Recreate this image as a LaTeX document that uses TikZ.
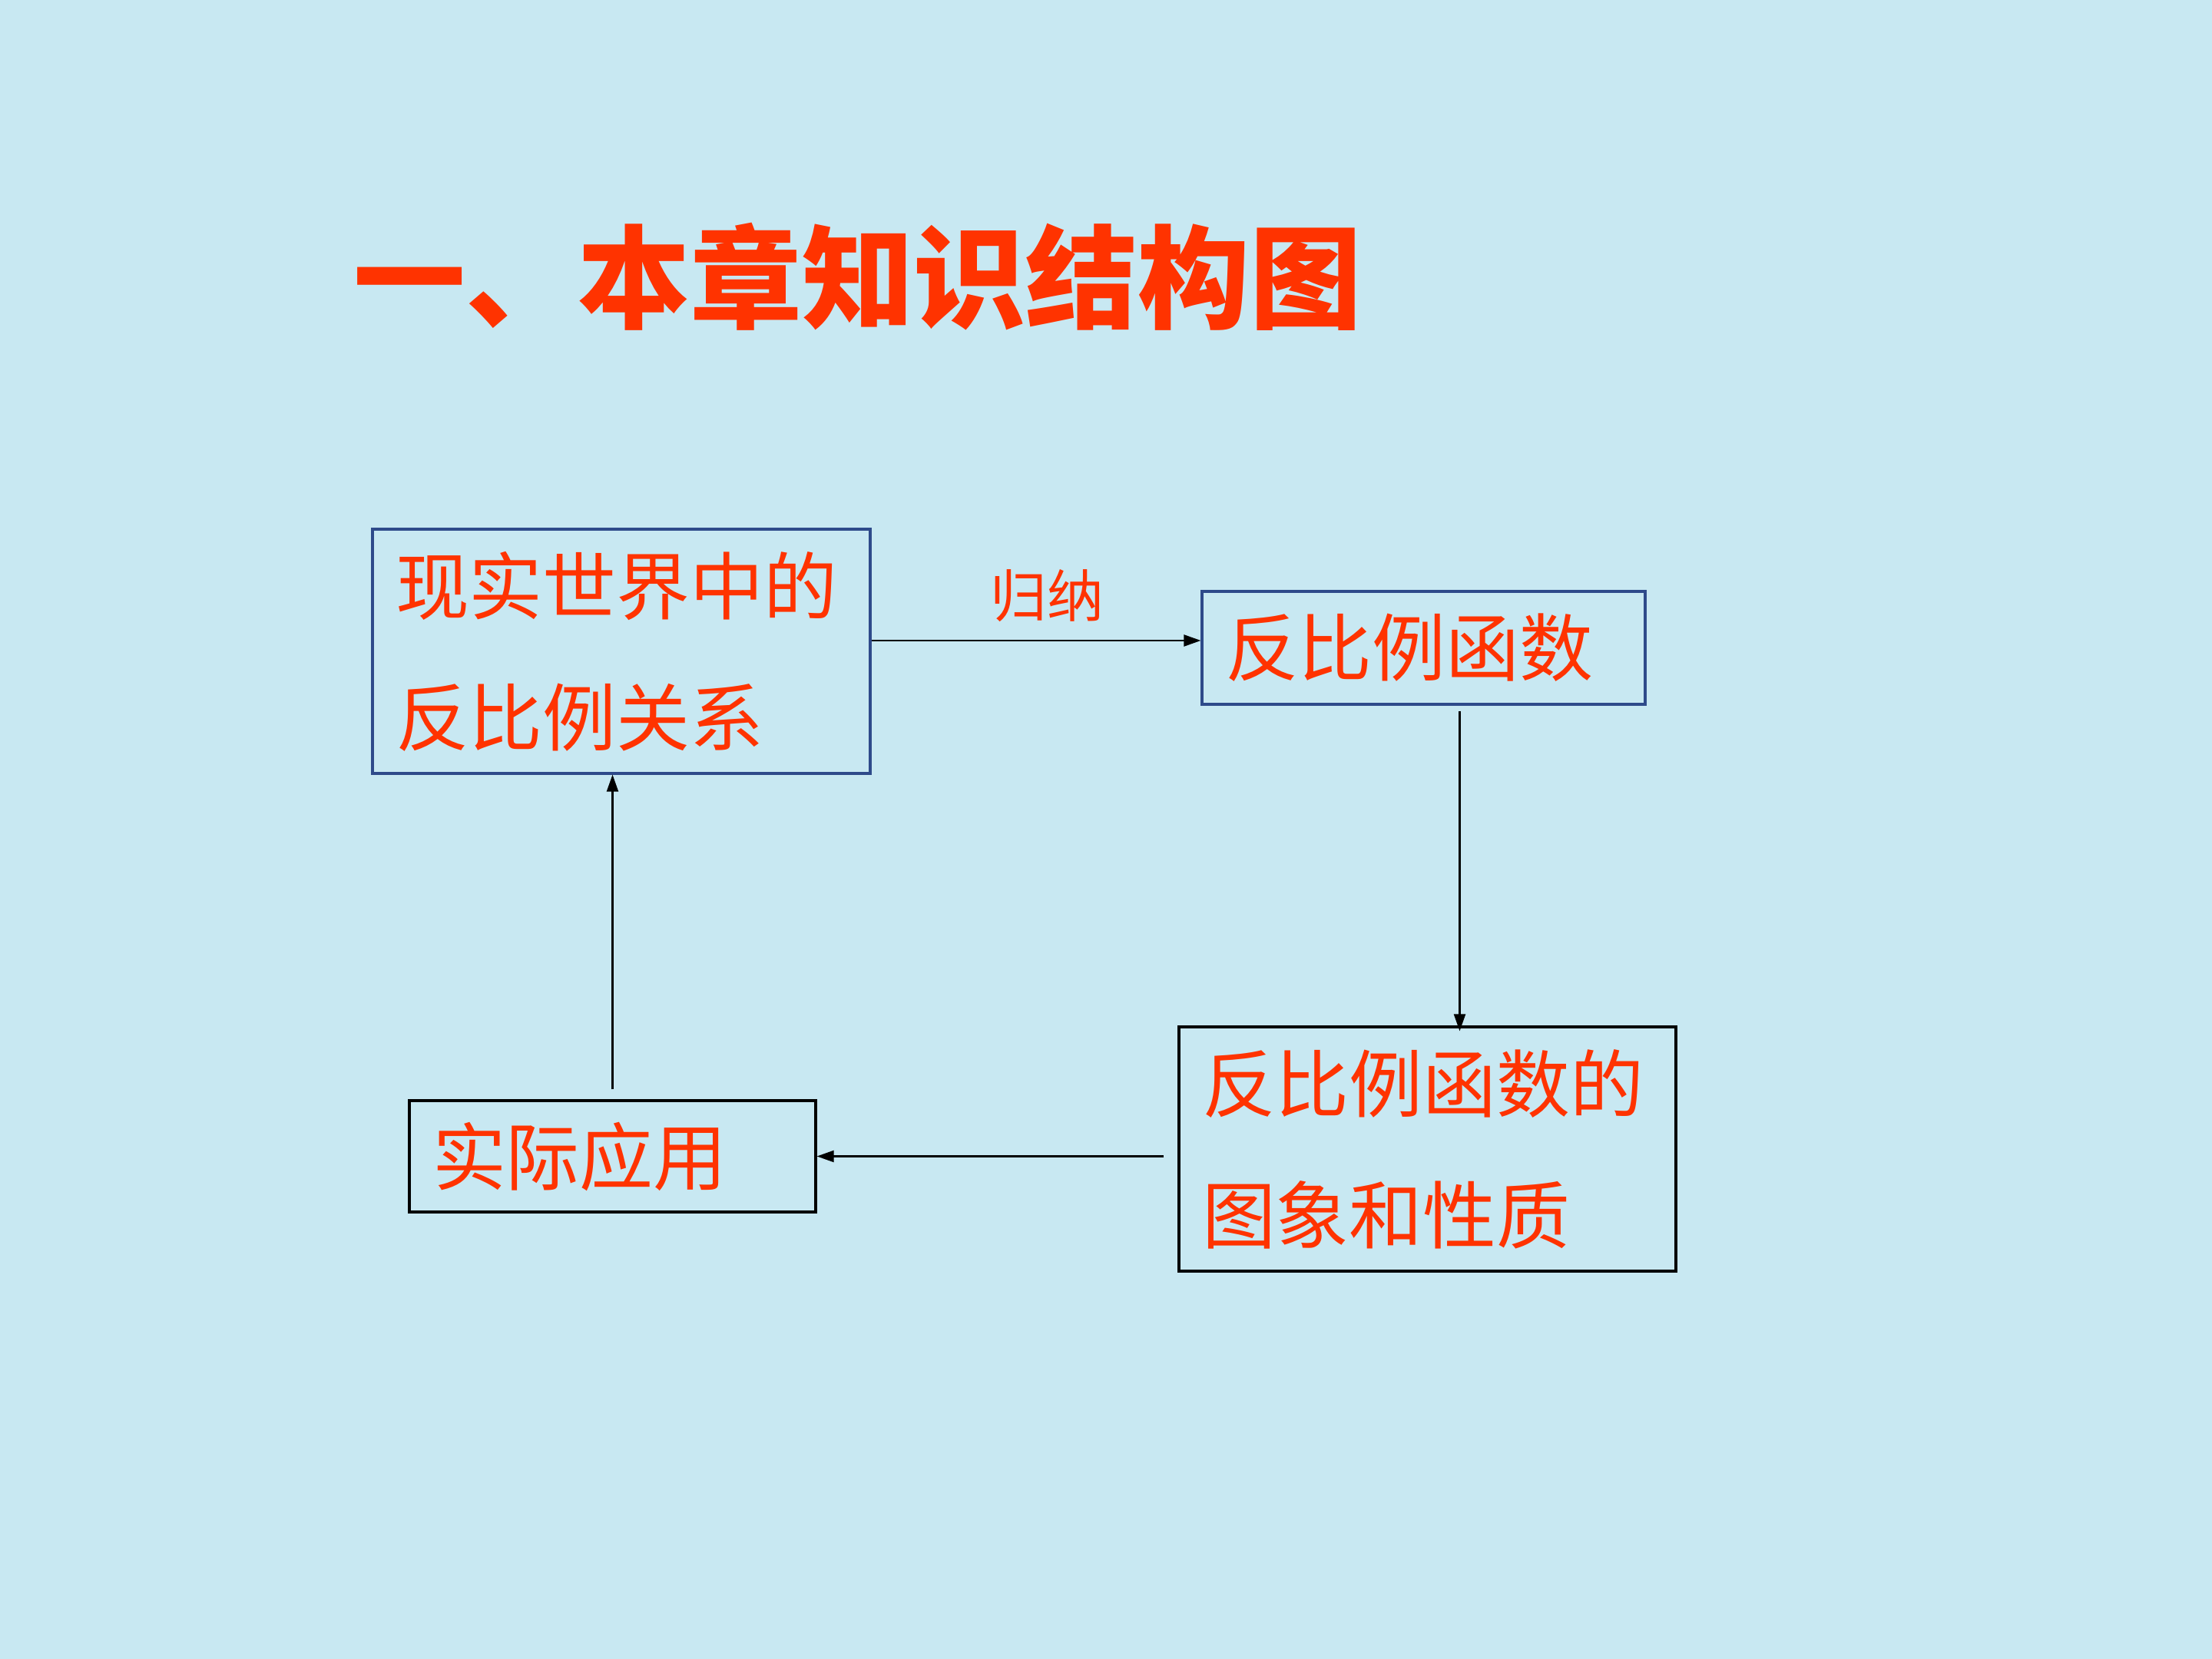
\documentclass[tikz,border=0pt]{standalone}
\usepackage{fontspec}
\newfontfamily\cjk{Noto Sans CJK SC}
\usepackage{tikz}
\usetikzlibrary{arrows.meta}
\definecolor{bgblue}{RGB}{200,232,242}
\definecolor{titlered}{RGB}{255,51,0}
\definecolor{boxblue}{RGB}{46,74,138}

\begin{document}
\begin{tikzpicture}[
  box/.style={draw, line width=0.9pt, inner xsep=0.3cm, align=left, text=titlered,
    font=\cjk\fontsize{27.3}{48.6}\selectfont},
  arr/.style={-{Triangle[length=0.22cm,width=0.15cm]}, line width=0.6pt}
]

% Background
\fill[bgblue] (0,0) rectangle (28.8,-21.6);
\useasboundingbox (0,0) rectangle (28.8,-21.6);

% Title
\node[anchor=west, text=titlered, inner sep=0pt, font=\cjk\bfseries\fontsize{41.5}{41.5}\selectfont] (title) at (4.6,-3.6) {一、本章知识结构图};

% Boxes
\node[box, draw=boxblue, minimum width=6.48cm, minimum height=3.18cm, text width=5.88cm] (real) at (8.09,-8.48) {现实世界中的\\反比例关系};
\node[box, draw=boxblue, minimum width=5.77cm, minimum height=1.47cm, text width=5.17cm] (func) at (18.535,-8.435) {反比例函数};
\node[box, minimum width=6.47cm, minimum height=3.18cm, text width=5.87cm] (graph) at (18.585,-14.96) {反比例函数的\\图象和性质};
\node[box, minimum width=5.29cm, minimum height=1.45cm, text width=4.69cm] (apply) at (7.975,-15.055) {实际应用};

% Connectors
\draw[arr] ([yshift=0.14cm]real.east) -- ([yshift=0.14cm]real.east -| func.west)
  node[midway, above=0.12cm, xshift=0.14cm, text=titlered, font=\cjk\fontsize{21}{21}\selectfont] (induce) {归纳};
\draw[arr] ([xshift=0.47cm,yshift=-0.07cm]func.south) -- ([xshift=0.47cm,yshift=-0.07cm]func.south |- graph.north);
\draw[arr] ([xshift=-0.18cm]graph.west |- apply.east) -- (apply.east);
\draw[arr] ([yshift=0.13cm]apply.north) -- (apply.north |- real.south);

\end{tikzpicture}
\end{document}
